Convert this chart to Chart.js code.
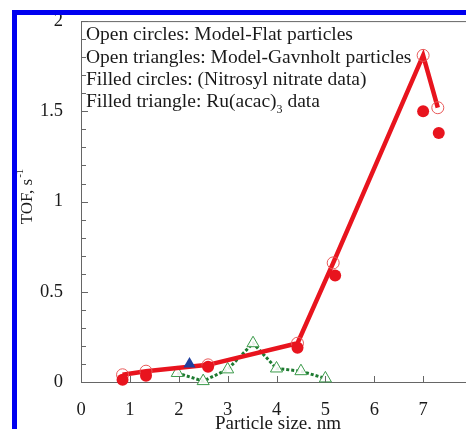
<!DOCTYPE html>
<html>
<head>
<meta charset="utf-8">
<script src="https://cdn.jsdelivr.net/npm/chart.js@4"></script>
<style>
  html, body { margin: 0; padding: 0; background: #fff; overflow: hidden; }
  #wrap { position: relative; width: 466px; height: 429px; overflow: hidden; }
  #chartCanvas { position: absolute; left: 0; top: 0; }
  #frame { position: absolute; left: 12px; top: 10px; width: 600px; height: 600px;
           border: 5px solid #0000f0; box-sizing: border-box; pointer-events: none; }
</style>
</head>
<body>
<div id="wrap">
  <canvas id="chartCanvas" width="480" height="429"></canvas>
  <div id="frame"></div>
</div>
<script>
// Dữ liệu
const flatX = [0.85, 1.33, 2.6, 4.43, 5.16, 7.0, 7.3];           // Open circles: Model-Flat
const flatY = [0.04, 0.06, 0.095, 0.215, 0.66, 1.81, 1.52];
const nitrosylX = [0.85, 1.33, 2.6, 4.43, 5.2, 7.0, 7.32];       // Filled circles
const nitrosylY = [0.012, 0.035, 0.085, 0.19, 0.59, 1.5, 1.38];
const gavnholtX = [1.97, 2.5, 3.0, 3.52, 4.0, 4.5, 5.0];         // Open triangles
const gavnholtY = [0.05, 0.005, 0.07, 0.215, 0.075, 0.06, 0.02];
const acacX = [2.22];                                            // Filled triangle
const acacY = [0.1];

const legendLines = [
    'Open circles: Model-Flat particles',
    'Open triangles: Model-Gavnholt particles',
    'Filled circles: (Nitrosyl nitrate data)',
    'Filled triangle: Ru(acac)'
];
const xTitle = 'Particle size, nm';
const yTitle = 'TOF, s';

const serif = '"Liberation Serif", "DejaVu Serif", serif';
const RED = '#e8141e';

function toPoints(xs, ys) {
    return xs.map((x, i) => ({ x: x, y: ys[i] }));
}

// Vẽ tick hướng vào trong, tiêu đề trục và chú thích
const decorPlugin = {
    id: 'decor',
    afterDraw(chart) {
        const ctx = chart.ctx;
        const area = chart.chartArea;
        const xs = chart.scales.x;
        const ys = chart.scales.y;
        ctx.save();
        ctx.strokeStyle = '#666';
        ctx.lineWidth = 1;
        ctx.beginPath();
        for (let i = 0; i <= 20; i++) {
            const py = Math.round(ys.getPixelForValue(i / 10)) + 0.5;
            const len = (i % 5 === 0) ? 7 : 5;
            ctx.moveTo(area.left, py);
            ctx.lineTo(area.left + len, py);
        }
        for (let i = 1; i <= 8; i++) {
            const px = Math.round(xs.getPixelForValue(i)) + 0.5;
            ctx.moveTo(px, area.bottom);
            ctx.lineTo(px, area.bottom - 6);
        }
        // khung trên
        ctx.moveTo(area.left, area.top + 0.5);
        ctx.lineTo(area.right, area.top + 0.5);
        ctx.stroke();

        ctx.fillStyle = '#1a1a1a';
        // tiêu đề trục x
        ctx.font = '19px ' + serif;
        ctx.textAlign = 'center';
        ctx.textBaseline = 'middle';
        ctx.fillText(xTitle, (area.left + 475) / 2, 424);

        // tiêu đề trục y với số mũ
        ctx.save();
        ctx.translate(28, 197);
        ctx.rotate(-Math.PI / 2);
        ctx.font = '17px ' + serif;
        const w1 = ctx.measureText(yTitle).width;
        ctx.font = '11px ' + serif;
        const w2 = ctx.measureText('-1').width;
        const start = -(w1 + w2) / 2;
        ctx.textAlign = 'left';
        ctx.font = '17px ' + serif;
        ctx.fillText(yTitle, start, 0);
        ctx.font = '11px ' + serif;
        ctx.fillText('-1', start + w1 + 1, -8);
        ctx.restore();

        // chú thích dạng chữ
        const fs = 19.5;
        ctx.font = fs + 'px ' + serif;
        ctx.textAlign = 'left';
        ctx.textBaseline = 'middle';
        const lineY = [35, 58, 80, 102];
        legendLines.forEach((t, i) => {
            ctx.fillText(t, 86, lineY[i]);
        });
        const wAcac = ctx.measureText(legendLines[3]).width;
        ctx.font = '12px ' + serif;
        ctx.fillText('3', 86 + wAcac, lineY[3] + 8);
        ctx.font = fs + 'px ' + serif;
        ctx.fillText(' data', 86 + wAcac + 6, lineY[3]);
        ctx.restore();
    }
};

const ctx = document.getElementById('chartCanvas').getContext('2d');
new Chart(ctx, {
    type: 'scatter',
    data: {
        datasets: [
            {
                label: 'Open triangles: Model-Gavnholt particles',
                data: toPoints(gavnholtX, gavnholtY),
                showLine: true,
                borderColor: '#1d7a30',
                borderWidth: 3,
                borderDash: [3, 2],
                pointStyle: 'triangle',
                pointRadius: 7,
                pointBorderColor: '#3a9a4a',
                pointBackgroundColor: 'rgba(255,255,255,0.9)',
                pointBorderWidth: 1,
                order: 4
            },
            {
                label: 'Open circles: Model-Flat particles',
                data: toPoints(flatX, flatY),
                showLine: true,
                borderColor: RED,
                borderWidth: 4.5,
                pointStyle: 'circle',
                pointRadius: 6,
                pointBorderColor: '#e85a5a',
                pointBackgroundColor: 'rgba(255,255,255,0)',
                pointBorderWidth: 1,
                order: 3
            },
            {
                label: 'Filled circles: (Nitrosyl nitrate data)',
                data: toPoints(nitrosylX, nitrosylY),
                showLine: false,
                pointStyle: 'circle',
                pointRadius: 6,
                pointBorderColor: RED,
                pointBackgroundColor: RED,
                pointBorderWidth: 0,
                order: 2
            },
            {
                label: 'Filled triangle: Ru(acac)3 data',
                data: toPoints(acacX, acacY),
                showLine: false,
                pointStyle: 'triangle',
                pointRadius: 7,
                pointBorderColor: '#1f3f9f',
                pointBackgroundColor: '#1f3f9f',
                pointBorderWidth: 0,
                order: 1
            }
        ]
    },
    options: {
        responsive: false,
        animation: false,
        clip: false,
        layout: { padding: { top: 20, right: 5, bottom: 0, left: 0 } },
        plugins: {
            legend: { display: false },
            tooltip: { enabled: false }
        },
        scales: {
            x: {
                type: 'linear',
                min: 0,
                max: 8,
                grid: { display: false },
                border: { display: true, color: '#666', width: 1 },
                ticks: {
                    stepSize: 1,
                    padding: 9,
                    color: '#1a1a1a',
                    font: { family: serif, size: 18.5 },
                    maxRotation: 0,
                    callback: v => (v >= 8 ? null : String(v))
                },
                afterFit(scale) { scale.height = 47; }
            },
            y: {
                type: 'linear',
                min: 0,
                max: 2,
                grid: { display: false },
                border: { display: true, color: '#666', width: 1 },
                ticks: {
                    stepSize: 0.5,
                    padding: 10,
                    color: '#1a1a1a',
                    font: { family: serif, size: 18.5 },
                    callback: v => String(v)
                },
                afterFit(scale) { scale.width = 81; }
            }
        }
    },
    plugins: [decorPlugin]
});
</script>
</body>
</html>
